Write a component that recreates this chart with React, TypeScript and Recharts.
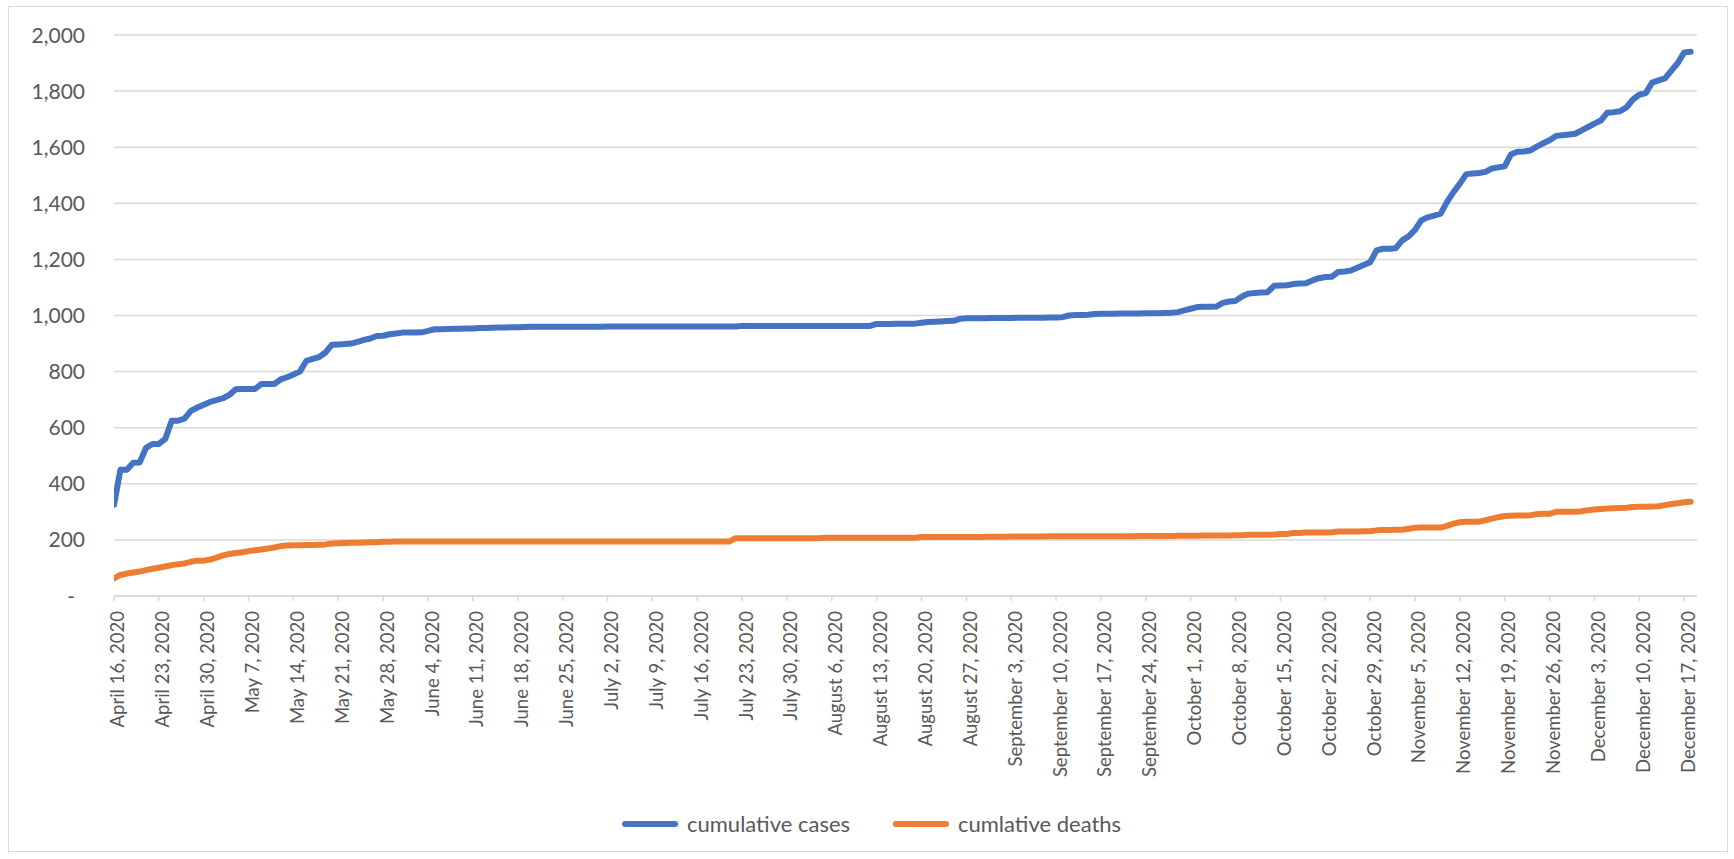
import React from "react";
import { LineChart, Line, XAxis, YAxis, CartesianGrid, Legend } from "recharts";

const xTickLabels = [
  "April 16, 2020", "April 23, 2020", "April 30, 2020", "May 7, 2020", "May 14, 2020",
  "May 21, 2020", "May 28, 2020", "June 4, 2020", "June 11, 2020", "June 18, 2020",
  "June 25, 2020", "July 2, 2020", "July 9, 2020", "July 16, 2020", "July 23, 2020",
  "July 30, 2020", "August 6, 2020", "August 13, 2020", "August 20, 2020", "August 27, 2020",
  "September 3, 2020", "September 10, 2020", "September 17, 2020", "September 24, 2020",
  "October 1, 2020", "October 8, 2020", "October 15, 2020", "October 22, 2020",
  "October 29, 2020", "November 5, 2020", "November 12, 2020", "November 19, 2020",
  "November 26, 2020", "December 3, 2020", "December 10, 2020", "December 17, 2020",
];
const xTickDays = [0, 7, 14, 21, 28, 35, 42, 49, 56, 63, 70, 77, 84, 91, 98, 105, 112, 119, 126, 133, 140, 147, 154, 161, 168, 175, 182, 189, 196, 203, 210, 217, 224, 231, 238, 245];

const yTicks = [0, 200, 400, 600, 800, 1000, 1200, 1400, 1600, 1800, 2000];
const yTickLabels = ["-", "200", "400", "600", "800", "1,000", "1,200", "1,400", "1,600", "1,800", "2,000"];

// daily values, April 16 2020 (index 0) to December 18 2020 (index 246)
const cumulativeCases = [
  325, 450, 450, 475, 476, 528, 542, 542, 560, 625,
  625, 632, 660, 672, 682, 692, 698, 705, 717, 737,
  738, 738, 738, 756, 756, 756, 772, 780, 790, 800,
  838, 845, 852, 868, 896, 897, 898, 900, 906, 913,
  918, 927, 928, 933, 936, 939, 939, 939, 940, 945,
  951, 951, 952, 953, 953, 954, 954, 955, 955, 956,
  957, 957, 958, 958, 959, 960, 960, 960, 960, 960,
  960, 960, 960, 960, 960, 960, 960, 961, 961, 961,
  961, 961, 961, 961, 961, 961, 961, 961, 961, 961,
  961, 961, 961, 961, 961, 961, 961, 961, 963, 963,
  963, 963, 963, 963, 963, 963, 963, 963, 963, 963,
  963, 963, 963, 963, 963, 963, 963, 963, 963, 970,
  970, 970, 971, 971, 971, 971, 974, 977, 978, 979,
  980, 981, 988, 990, 990, 990, 990, 991, 991, 991,
  991, 992, 992, 992, 992, 992, 993, 993, 994, 1000,
  1002, 1002, 1003, 1005, 1006, 1006, 1006, 1007, 1007, 1007,
  1007, 1008, 1008, 1008, 1009, 1010, 1012, 1018, 1024, 1030,
  1031, 1031, 1032, 1045, 1050, 1052, 1068, 1078, 1080, 1082,
  1083, 1106, 1107, 1108, 1112, 1114, 1115, 1125, 1133, 1137,
  1138, 1155, 1157, 1160, 1170, 1180, 1190, 1232, 1238, 1238,
  1240, 1268, 1282, 1305, 1340, 1350, 1356, 1363, 1405, 1440,
  1470, 1504, 1506, 1508, 1512, 1524, 1528, 1532, 1575, 1584,
  1585, 1588, 1602, 1614, 1625, 1640, 1643, 1645, 1648, 1660,
  1672, 1684, 1695, 1723, 1725, 1728, 1742, 1770, 1787, 1793,
  1830, 1838, 1845, 1873, 1900, 1938, 1940,
];

const cumulativeDeaths = [
  63, 75, 80, 84, 87, 92, 97, 101, 105, 110,
  113, 116, 122, 126, 126, 130, 137, 145, 150, 153,
  156, 160, 163, 166, 169, 173, 178, 180, 181, 181,
  182, 182, 183, 184, 187, 188, 189, 190, 190, 191,
  192, 192, 193, 193, 194, 194, 194, 194, 194, 194,
  194, 194, 194, 194, 194, 194, 194, 194, 194, 194,
  194, 194, 194, 194, 194, 194, 194, 194, 194, 194,
  194, 194, 194, 194, 194, 194, 194, 194, 194, 194,
  194, 194, 194, 194, 194, 194, 194, 194, 194, 194,
  194, 194, 194, 194, 194, 194, 194, 206, 206, 206,
  206, 206, 206, 206, 206, 206, 206, 206, 206, 206,
  206, 208, 208, 208, 208, 208, 208, 208, 208, 208,
  208, 208, 208, 208, 208, 208, 210, 210, 210, 210,
  210, 210, 210, 210, 210, 210, 211, 211, 211, 211,
  212, 212, 212, 212, 212, 212, 213, 213, 213, 213,
  213, 213, 213, 213, 213, 213, 213, 213, 213, 213,
  214, 214, 214, 214, 214, 214, 215, 215, 215, 215,
  216, 216, 216, 216, 216, 217, 217, 218, 218, 218,
  218, 219, 221, 221, 225, 225, 226, 226, 226, 226,
  227, 230, 230, 230, 230, 231, 231, 234, 235, 235,
  236, 236, 240, 243, 244, 244, 244, 244, 250, 258,
  263, 265, 265, 265, 270, 276, 281, 285, 286, 287,
  287, 288, 292, 293, 293, 300, 300, 300, 300, 302,
  306, 308, 310, 312, 313, 314, 315, 317, 318, 318,
  319, 320, 324, 328, 331, 334, 336,
];

const seriesNames = ["cumulative cases", "cumlative deaths"];
const BLUE = "#4472C4";
const ORANGE = "#ED7D31";
const TEXT = "#595959";
const GRID = "#D9D9D9";
const FONT = "Lato, 'Open Sans', sans-serif";

const data = cumulativeCases.map((c, i) => ({ day: i, cases: c, deaths: cumulativeDeaths[i] }));

const XTick = (props: any) => {
  const { x, y, payload } = props;
  const idx = xTickDays.indexOf(payload.value);
  const label = idx >= 0 ? xTickLabels[idx] : "";
  const tx = x + 4;
  return (
    <text
      x={tx}
      y={y}
      dy="0.35em"
      transform={`rotate(-90, ${tx}, ${y})`}
      textAnchor="end"
      fill={TEXT}
      fontSize={18.5}
      fontFamily={FONT}
    >
      {label}
    </text>
  );
};

const YTick = (props: any) => {
  const { x, y, payload } = props;
  const idx = yTicks.indexOf(payload.value);
  const label = idx >= 0 ? yTickLabels[idx] : "";
  const isZero = payload.value === 0;
  return (
    <text
      x={isZero ? x - 10 : x}
      y={y}
      dy="0.36em"
      textAnchor="end"
      fill={TEXT}
      fontSize={21}
      fontFamily={FONT}
    >
      {label}
    </text>
  );
};

const LegendContent = () => {
  const item = (left: number, color: string, name: string) => (
    <div style={{ position: "absolute", left, top: 0, height: 24, display: "flex", alignItems: "center" }}>
      <div style={{ width: 56, height: 6, borderRadius: 3, background: color }} />
      <span style={{ marginLeft: 9, fontSize: 22, fontFamily: FONT, color: TEXT, whiteSpace: "nowrap", lineHeight: "24px" }}>
        {name}
      </span>
    </div>
  );
  return (
    <div style={{ position: "relative", width: 1734, height: 24 }}>
      {item(622, BLUE, seriesNames[0])}
      {item(893, ORANGE, seriesNames[1])}
    </div>
  );
};

export default function App() {
  return (
    <div style={{ position: "absolute", left: 0, top: 0, width: 1734, height: 859, background: "#fff" }}>
      <div
        style={{
          position: "absolute",
          left: 8,
          top: 6,
          width: 1720,
          height: 846,
          boxSizing: "border-box",
          border: `1px solid ${GRID}`,
        }}
      />
      <div style={{ position: "absolute", left: 0, top: 0 }}>
        <LineChart width={1734} height={859} data={data} margin={{ top: 35, right: 37, left: 0, bottom: 23 }}>
          <CartesianGrid vertical={false} stroke={GRID} strokeWidth={1.5} />
          <XAxis
            dataKey="day"
            type="number"
            domain={[0, 247]}
            ticks={xTickDays}
            interval={0}
            height={216}
            tickSize={5}
            tickMargin={10}
            axisLine={{ stroke: GRID, strokeWidth: 1.5 }}
            tickLine={{ stroke: GRID, strokeWidth: 1.5 }}
            tick={<XTick />}
            allowDataOverflow
          />
          <YAxis
            type="number"
            domain={[0, 2000]}
            ticks={yTicks}
            interval={0}
            width={114}
            axisLine={false}
            tickLine={false}
            tickSize={0}
            tickMargin={29}
            tick={<YTick />}
          />
          <Legend verticalAlign="bottom" height={24} content={<LegendContent />} wrapperStyle={{ left: 0, width: 1734 }} />
          <Line
            type="linear"
            dataKey="cases"
            name={seriesNames[0]}
            stroke={BLUE}
            strokeWidth={6}
            dot={false}
            activeDot={false}
            strokeLinecap="round"
            strokeLinejoin="round"
            isAnimationActive={false}
          />
          <Line
            type="linear"
            dataKey="deaths"
            name={seriesNames[1]}
            stroke={ORANGE}
            strokeWidth={6}
            dot={false}
            activeDot={false}
            strokeLinecap="round"
            strokeLinejoin="round"
            isAnimationActive={false}
          />
        </LineChart>
      </div>
    </div>
  );
}
